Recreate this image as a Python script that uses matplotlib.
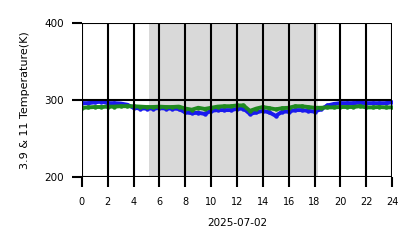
import numpy as np
import matplotlib
matplotlib.use('Agg')
from matplotlib import pyplot as plt

hours = np.arange(0, 24.01, 0.5)  # half-hourly samples
t39 = [296, 296, 297, 298, 296, 296, 295.5, 294, 290, 289, 289, 289, 289.5, 289, 289, 288.5,
       284, 283, 283.5, 282, 286, 287, 287, 287, 288.5, 289, 282, 284, 286, 284, 279.5, 285,
       285, 287, 287, 286, 285, 288, 293, 295, 296, 296, 296, 296.5, 296, 296, 296, 296, 297]
t11 = [290, 290.5, 291, 291, 291.5, 291.5, 292, 292, 292, 291.5, 291, 291, 291.5, 291, 291, 291.5,
       289, 287.5, 290, 288.5, 290, 291.5, 292, 292, 293, 293, 286, 289, 291, 289.5, 288, 289.5,
       290, 292, 292, 291, 290, 290, 290.5, 290.5, 291, 291, 291, 292, 290.5, 290.5, 291, 290.5, 290.5]
night = (5.2, 18.3)
xticks = list(range(0, 25, 2))
yticks = [200, 300, 400]

fig = plt.figure(figsize=(4.18, 2.48), dpi=100)
ax = fig.add_axes([0.196, 0.286, 0.742, 0.621])

ax.axvspan(night[0], night[1], color='#d9d9d9', lw=0)
ax.plot(hours, t39, color='#1a1aee', lw=2.8, marker='o', ms=2.2)
ax.plot(hours, t11, color='#1f8a1f', lw=2.8, marker='o', ms=2.2)

ax.set_xlim(0, 24)
ax.set_ylim(200, 400)
ax.set_xticks(xticks)
ax.set_yticks(yticks)
ax.grid(True, color='black', lw=1.5)
ax.set_axisbelow(False)
for s in ax.spines.values():
    s.set_visible(False)
ax.tick_params(axis='both', length=7, width=1.5, pad=6, labelsize=7.5)
ax.tick_params(axis='x', pad=7, labelsize=7)
ax.set_xlabel('2025-07-02', fontsize=7.5, labelpad=8)
ax.set_ylabel('3.9 & 11 Temperature(K)', fontsize=8, labelpad=10)

fig.savefig('out.png', dpi=100)
